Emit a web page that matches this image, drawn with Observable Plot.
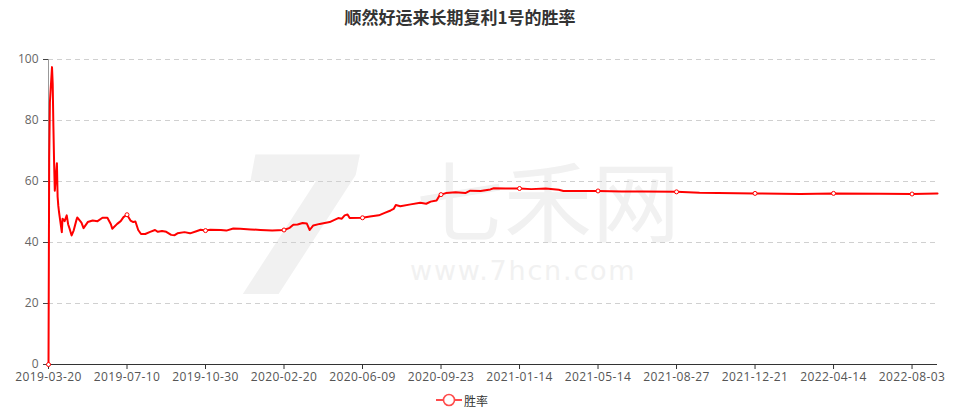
<!DOCTYPE html>
<html><head><meta charset="utf-8">
<script src="https://cdn.jsdelivr.net/npm/d3@7"></script>
<script src="https://cdn.jsdelivr.net/npm/@observablehq/plot@0.6"></script>
<style>
body{margin:0;background:#fff;}
#wrap{position:relative;width:960px;height:415px;overflow:hidden;background:#fff;font-family:"Open Sans","Noto Sans CJK SC",sans-serif;}
.wm{position:absolute;color:#f1f1f1;white-space:nowrap;line-height:1;}
#chart{position:absolute;left:0;top:0;}
#title{position:absolute;left:0;top:7px;width:920px;text-align:center;font:bold 17px "Noto Sans CJK SC",sans-serif;color:#333;line-height:20px;}
#legend{position:absolute;top:391px;left:436px;height:18px;display:flex;align-items:center;font:12px "Noto Sans CJK SC",sans-serif;color:#333;}
#chart svg [aria-label="x-axis tick label"] text{letter-spacing:0.4px;}
</style></head><body>
<div id="wrap">
  <div class="wm" style="left:228px;top:118px;font:bold 190px 'DejaVu Sans',sans-serif;font-style:italic;">7</div>
  <div class="wm" style="left:416px;top:133px;font:88px 'Noto Sans CJK SC',sans-serif;">七禾网</div>
  <div class="wm" style="left:410px;top:255px;font:27px 'DejaVu Sans',sans-serif;letter-spacing:1.8px;">www.7hcn.com</div>
  <div id="chart"></div>
  <div id="title">顺然好运来长期复利1号的胜率</div>
  <div id="legend"><svg width="26" height="14"><line x1="0" x2="26" y1="7" y2="7" stroke="#ff4c4c" stroke-width="2"/><circle cx="13" cy="7" r="5.5" fill="#fff" stroke="#ff4c4c" stroke-width="1.6"/></svg><span style="margin-left:2px">胜率</span></div>
</div>
<script>
const tickLabels = ["2019-03-20","2019-07-10","2019-10-30","2020-02-20","2020-06-09","2020-09-23","2021-01-14","2021-05-14","2021-08-27","2021-12-21","2022-04-14","2022-08-03"];
const yTicks = [0,20,40,60,80,100];
const seriesName = "胜率";
const dates = [
 "2019-03-20","2019-03-21","2019-03-22","2019-03-25","2019-03-26","2019-03-27","2019-03-28","2019-03-29",
 "2019-04-01","2019-04-02","2019-04-03","2019-04-04","2019-04-08","2019-04-09","2019-04-12","2019-04-15","2019-04-17","2019-04-19","2019-04-22","2019-04-25","2019-04-29","2019-04-30",
 "2019-05-06","2019-05-09","2019-05-15","2019-05-22","2019-05-29",
 "2019-06-05","2019-06-12","2019-06-17","2019-06-19","2019-06-26",
 "2019-07-01","2019-07-05","2019-07-10",
 "2019-07-15","2019-07-19","2019-07-22","2019-07-26","2019-07-30","2019-08-05","2019-08-12","2019-08-19","2019-08-23","2019-08-29","2019-09-04","2019-09-11","2019-09-16","2019-09-20","2019-09-30","2019-10-08","2019-10-17","2019-10-23","2019-10-30",
 "2019-11-06","2019-11-21","2019-11-29","2019-12-09","2019-12-19","2020-01-03","2020-01-17","2020-02-03","2020-02-20",
 "2020-02-28","2020-03-04","2020-03-10","2020-03-17","2020-03-23","2020-03-27","2020-04-01","2020-04-10","2020-04-24","2020-05-06","2020-05-11","2020-05-15","2020-05-19","2020-05-22","2020-06-09",
 "2020-06-19","2020-07-01","2020-07-09","2020-07-17","2020-07-21","2020-07-24","2020-07-30","2020-08-13","2020-08-26","2020-09-03","2020-09-09","2020-09-17","2020-09-21","2020-09-23",
 "2020-09-30","2020-10-14","2020-10-28","2020-11-04","2020-11-19","2020-12-03","2020-12-08","2020-12-25","2021-01-14",
 "2021-02-01","2021-02-23","2021-03-15","2021-03-22","2021-04-19","2021-05-14",
 "2021-06-15","2021-07-12","2021-08-27",
 "2021-09-30","2021-12-21",
 "2022-01-28","2022-02-25","2022-04-14",
 "2022-06-20","2022-08-03","2022-09-08"
];
const winRate = [
 0,68,86,97.5,92,78,66,57,
 66,55,52,50,43.4,47.8,47,48.9,46,44.6,42.3,44,47.5,48.2,
 46.5,44.7,46.7,47.2,47.0,
 48.1,48.1,46,44.5,46.1,
 47,48.3,49.1,
 47.2,46.7,46.9,44.1,42.8,42.8,43.5,44.1,43.5,43.8,43.5,42.5,42.4,43.0,43.4,43.0,43.7,44.2,43.9,
 44.2,44.1,43.9,44.6,44.5,44.3,44.1,43.9,44.1,
 44.8,45.8,45.9,46.4,46.2,44.1,45.6,46.1,46.7,48.0,47.8,48.9,49.2,48.0,48.1,
 48.5,48.9,49.7,50.5,51.0,52.3,51.9,52.5,53.0,52.7,53.4,53.8,55.4,55.7,
 56.2,56.5,56.2,57.0,56.9,57.4,57.8,57.7,57.7,
 57.5,57.7,57.3,56.9,56.9,56.9,
 56.7,56.7,56.6,
 56.3,56.1,
 56.0,55.9,56.1,
 56.0,55.9,56.1
];

const parse = d3.utcParse("%Y-%m-%d");
const tickDates = tickLabels.map(parse);
// category-axis position: labels are evenly spaced, interpolate between them
const pos = d3.scaleUtc().domain(tickDates).range(d3.range(tickDates.length));
const data = dates.map((d, i) => ({date: parse(d), label: d, v: winRate[i], p: pos(parse(d))}));
const dotData = data.filter(d => tickLabels.includes(d.label));
const xMax = d3.max(data, d => d.p);

const chart = Plot.plot({
  width: 960, height: 415,
  marginTop: 59, marginBottom: 51, marginLeft: 48, marginRight: 23,
  style: {background: "transparent", fontFamily: "'Open Sans', sans-serif", fontSize: "12px", overflow: "visible"},
  x: {domain: [0, xMax], axis: null},
  y: {domain: [0, 100], axis: null},
  marks: [
    Plot.gridY(yTicks.filter(t => t > 0), {stroke: "#d0d0d0", strokeOpacity: 1, strokeDasharray: "5,4"}),
    Plot.ruleX([0], {y1: 0, y2: 100, stroke: "#999"}),
    Plot.axisY(yTicks, {tickSize: 5, tickPadding: 5, label: null, stroke: "#444", fill: "#666", fontSize: 12}),
    Plot.axisX(d3.range(tickLabels.length), {tickSize: 5, tickPadding: 3, label: null, tickFormat: i => tickLabels[i], stroke: "#333", fill: "#555", fontSize: 12}),
    Plot.ruleY([0], {stroke: "#333"}),
    Plot.line(data, {x: "p", y: "v", stroke: "#ff0000", strokeWidth: 2}),
    Plot.dot(dotData, {x: "p", y: "v", r: 2, fill: "white", stroke: "#ff0000", strokeWidth: 1})
  ]
});
document.getElementById("chart").appendChild(chart);
</script>
</body></html>
